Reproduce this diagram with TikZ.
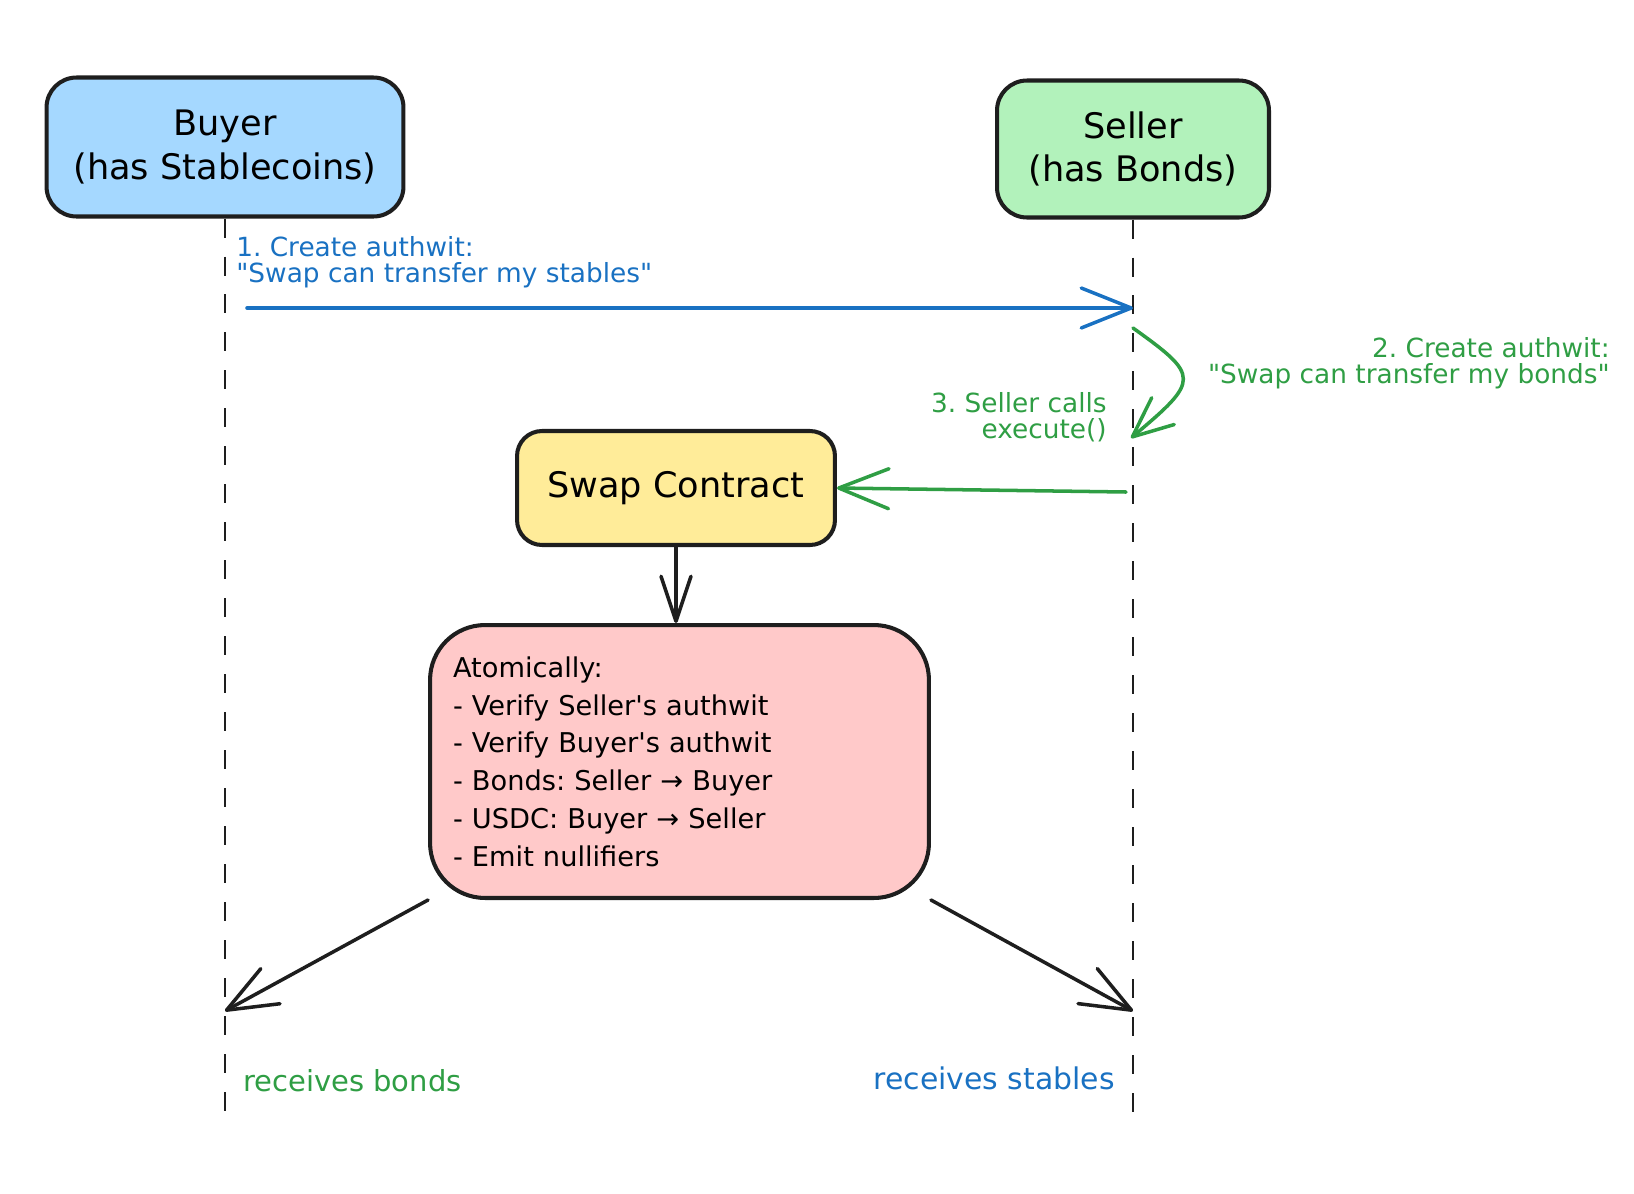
\documentclass[tikz,border=0pt]{standalone}
\usepackage{fontspec}
\setmainfont{DejaVu Sans}[Ligatures=TeXOff]
\usetikzlibrary{arrows.meta}
\frenchspacing
\definecolor{InkBlack}{HTML}{1E1E1E}
\definecolor{InkBlue}{HTML}{1971C2}
\definecolor{InkGreen}{HTML}{2F9E44}
\definecolor{SoftBlue}{HTML}{A5D8FF}
\definecolor{SoftGreen}{HTML}{B2F2BB}
\definecolor{SoftYellow}{HTML}{FFEC99}
\definecolor{SoftRed}{HTML}{FFC9C9}
\tikzset{
  actor/.style={draw=InkBlack, line width=2.3pt, rounded corners=0.6cm, align=center, inner sep=4pt, font=\fontsize{20}{25}\selectfont},
  bluebox/.style={actor, fill=SoftBlue},
  greenbox/.style={actor, fill=SoftGreen},
  yellowbox/.style={actor, fill=SoftYellow, rounded corners=0.5cm},
  redbox/.style={actor, fill=SoftRed, rounded corners=1.1cm, align=left, inner xsep=0.46cm, font=\fontsize{15.5}{21.5}\selectfont},
  lifeline/.style={draw=InkBlack, line width=1.2pt, dash pattern=on 0.38cm off 0.38cm},
  arrow/.style={-{Straight Barb[length=0.9cm, width=0.6cm, round]}, line width=2pt, draw=InkBlack, line cap=round},
  bigarrow/.style={-{Straight Barb[length=1cm, width=0.8cm, round]}, line width=2pt, draw=InkBlack, line cap=round},
  bluearrow/.style={bigarrow, draw=InkBlue},
  greenarrow/.style={bigarrow, draw=InkGreen},
  bluelabel/.style={text=InkBlue, inner sep=0pt, font=\fontsize{15}{14.5}\selectfont},
  greenlabel/.style={text=InkGreen, inner sep=0pt, font=\fontsize{15}{14.5}\selectfont}
}
\begin{document}
\begin{tikzpicture}[x=0.02cm, y=-0.02cm]
\useasboundingbox (0,0) rectangle (1634,1194);
% actors and their lifelines
\node[bluebox, minimum width=7.14cm, minimum height=2.78cm] (buyer) at (225,147) {Buyer\\(has Stablecoins)};
\node[greenbox, minimum width=5.44cm, minimum height=2.74cm] (seller) at (1133,149) {Seller\\(has Bonds)};
\coordinate (buyerEnd) at (225,1130);
\coordinate (sellerEnd) at (1133,1130);
\draw[lifeline] (buyer.south) -- (buyerEnd);
\draw[lifeline] (seller.south) -- (sellerEnd);
% contract
\node[yellowbox, minimum width=6.36cm, minimum height=2.28cm] (swap) at (676,488) {Swap Contract};
\node[redbox, minimum height=5.46cm, text width=9.06cm] (atomic) at (679.5,761.5) {Atomically:\\- Verify Seller's authwit\\- Verify Buyer's authwit\\- Bonds: Seller → Buyer\\- USDC: Buyer → Seller\\- Emit nullifiers};
% points on the lifelines
\coordinate (b1) at (247,308);
\coordinate (s1) at (1133,308);
\coordinate (s2) at (1133,328);
\coordinate (s3) at (1131,438);
\coordinate (s4) at (1126,492);
\coordinate (bRecv) at (225,1011);
\coordinate (sRecv) at (1133,1011);
% messages
\draw[bluearrow] (b1) -- (s1);
\node[bluelabel, anchor=west, align=left] (msg1) at (236,262) {1. Create authwit:\\"Swap can transfer my stables"};
\draw[greenarrow, -{Straight Barb[length=0.8cm, width=0.7cm, round]}] (s2) .. controls (1200,376) and (1200,380) .. (s3);
\node[greenlabel, anchor=east, align=right] (msg2) at (1610,363) {2. Create authwit:\\"Swap can transfer my bonds"};
\node[greenlabel, anchor=east, align=right] (msg3) at (1107,417) {3. Seller calls\\execute()};
\draw[greenarrow] (s4) -- (swap.east);
\draw[arrow] (swap.south) -- (swap.south |- atomic.north);
\draw[bigarrow] (atomic.south west) -- (bRecv);
\draw[bigarrow] (atomic.south east) -- (sRecv);
\node[greenlabel, anchor=west, font=\fontsize{16.5}{16.5}\selectfont] (gotBonds) at (243,1081) {receives bonds};
\node[bluelabel, anchor=east, font=\fontsize{17}{17}\selectfont] (gotStables) at (1115,1078) {receives stables};
\end{tikzpicture}
\end{document}
